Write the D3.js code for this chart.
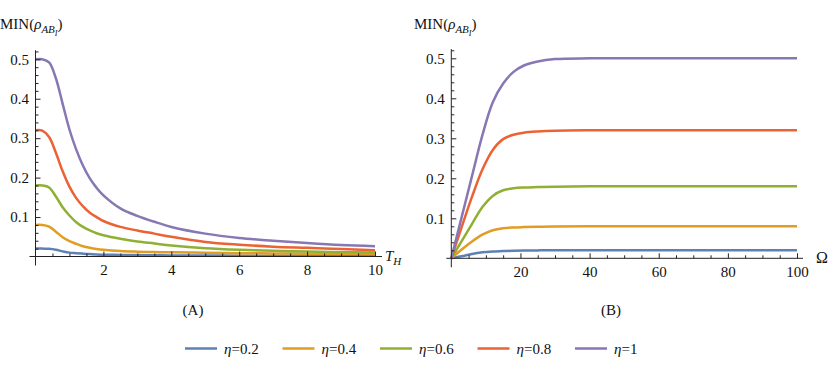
<!DOCTYPE html>
<html>
<head>
<meta charset="utf-8">
<script src="https://cdn.jsdelivr.net/npm/d3@7"></script>
<style>
  body { margin: 0; background: #fff; }
  svg { display: block; }
  text { font-family: "Liberation Serif", "Times New Roman", serif; fill: #111; }
</style>
</head>
<body>
<div class="chart"></div>
<script>
// ---- data ----
const etaLabels = ["0.2", "0.4", "0.6", "0.8", "1"];
const colorrange = ["#5E81B5", "#E19C24", "#8FB032", "#EB6235", "#8778B3"];

// panel (A): MIN vs T_H
const tH = [0, 0.2, 0.4, 0.6, 0.8, 1.0, 1.2, 1.4, 1.6, 1.8, 2, 2.5, 3, 3.5, 4, 5, 6, 7, 8, 9, 10];
const aEta02 = [0.02, 0.02, 0.0195, 0.017, 0.013, 0.0098, 0.0084, 0.0072, 0.0062, 0.0053, 0.0047, 0.004, 0.0035, 0.0031, 0.0028, 0.0025, 0.0022, 0.002, 0.0018, 0.0017, 0.0016];
const aEta04 = [0.08, 0.08, 0.076, 0.063, 0.049, 0.039, 0.032, 0.026, 0.022, 0.019, 0.017, 0.0138, 0.0122, 0.0112, 0.0105, 0.0095, 0.0085, 0.0078, 0.0072, 0.0068, 0.0065];
const aEta06 = [0.18, 0.18, 0.175, 0.152, 0.125, 0.104, 0.087, 0.075, 0.066, 0.059, 0.054, 0.045, 0.038, 0.033, 0.028, 0.021, 0.017, 0.0145, 0.0127, 0.011, 0.010];
const aEta08 = [0.32, 0.319, 0.303, 0.263, 0.216, 0.177, 0.148, 0.127, 0.111, 0.1, 0.09, 0.075, 0.066, 0.058, 0.05, 0.037, 0.03, 0.025, 0.022, 0.019, 0.016];
const aEta10 = [0.5, 0.5, 0.492, 0.452, 0.387, 0.322, 0.271, 0.23, 0.198, 0.174, 0.155, 0.122, 0.103, 0.088, 0.075, 0.058, 0.047, 0.04, 0.034, 0.029, 0.026];

// panel (B): MIN vs Omega
const omega = [0, 3, 6, 9, 12, 15, 18, 21, 25, 30, 40, 60, 80, 100];
const bEta02 = [0, 0.005, 0.011, 0.015, 0.017, 0.018, 0.019, 0.0195, 0.0198, 0.02, 0.02, 0.02, 0.02, 0.02];
const bEta04 = [0, 0.022, 0.042, 0.059, 0.07, 0.075, 0.077, 0.078, 0.079, 0.0795, 0.08, 0.08, 0.08, 0.08];
const bEta06 = [0, 0.043, 0.086, 0.128, 0.156, 0.17, 0.175, 0.177, 0.178, 0.179, 0.18, 0.18, 0.18, 0.18];
const bEta08 = [0, 0.078, 0.154, 0.222, 0.271, 0.298, 0.309, 0.314, 0.317, 0.319, 0.32, 0.32, 0.32, 0.32];
const bEta10 = [0, 0.103, 0.206, 0.308, 0.39, 0.437, 0.466, 0.482, 0.492, 0.498, 0.5, 0.5, 0.5, 0.5];

const yTicks = [0.1, 0.2, 0.3, 0.4, 0.5];
const aXTicks = [2, 4, 6, 8, 10];
const bXTicks = [20, 40, 60, 80, 100];

const serif = "'Liberation Serif', 'Times New Roman', serif";

let width = 830, height = 374;

let svg = d3.select(".chart").append("svg")
    .attr("width", width)
    .attr("height", height);

svg.append("rect").attr("width", width).attr("height", height).attr("fill", "#fff");

let panels = [
  { xs: tH, series: [aEta02, aEta04, aEta06, aEta08, aEta10], xDomain: [0, 10], xRange: [35.5, 375],
    yRange: [256.5, 59.3], xTicks: aXTicks, xMinorStep: 0.5, axisLeftExt: 6, axisRightEnd: 382,
    label: "(A)", labelX: 193, titleX: 0, xName: "T" },
  { xs: omega, series: [bEta02, bEta04, bEta06, bEta08, bEta10], xDomain: [0, 100], xRange: [451.3, 797],
    yRange: [258.3, 58.3], xTicks: bXTicks, xMinorStep: 5, axisLeftExt: 5, axisRightEnd: 803,
    label: "(B)", labelX: 611, titleX: 414, xName: "Ω" }
];

function styleAxis(a) {
  a.select(".domain").remove();
  a.attr("font-family", serif).attr("font-size", 15);
  a.selectAll("line").attr("stroke", "#222");
  a.selectAll("text").style("font-family", serif).style("font-size", "15px").attr("fill", "#111");
}

panels.forEach(function(p) {
  let x = d3.scaleLinear().domain(p.xDomain).range(p.xRange);
  let y = d3.scaleLinear().domain([0, 0.5]).range(p.yRange);
  let g = svg.append("g");

  let line = d3.line()
    .curve(d3.curveCatmullRom.alpha(0.5))
    .x(function(d, i) { return x(p.xs[i]); })
    .y(function(d) { return y(d); });

  g.selectAll("path.curve")
    .data(p.series)
    .enter().append("path")
      .attr("class", "curve")
      .attr("d", line)
      .attr("fill", "none")
      .attr("stroke", function(d, i) { return colorrange[i]; })
      .attr("stroke-width", 2.5);

  // axis lines (extend a bit past the origin, like the original)
  let x0 = x(0), y0 = y(0);
  g.append("line").attr("x1", x0 - p.axisLeftExt).attr("x2", p.axisRightEnd)
    .attr("y1", y0).attr("y2", y0).attr("stroke", "#222").attr("stroke-width", 1);
  g.append("line").attr("x1", x0).attr("x2", x0)
    .attr("y1", y0 + 9).attr("y2", y(0.523)).attr("stroke", "#222").attr("stroke-width", 1);

  // minor ticks
  let xMinor = d3.range(p.xMinorStep, p.xDomain[1] + 1e-9, p.xMinorStep)
    .filter(function(v) { return p.xTicks.indexOf(Math.round(v * 100) / 100) < 0; });
  let yMinor = d3.range(0.02, 0.521, 0.02)
    .filter(function(v) { return Math.abs(v * 10 - Math.round(v * 10)) > 1e-6; });

  g.append("g").attr("transform", "translate(0," + y0 + ")")
    .call(d3.axisBottom(x).tickValues(xMinor).tickSize(-3).tickFormat(""))
    .call(styleAxis);
  g.append("g").attr("transform", "translate(" + x0 + ",0)")
    .call(d3.axisLeft(y).tickValues(yMinor).tickSize(-3).tickFormat(""))
    .call(styleAxis);

  // major ticks + labels
  g.append("g").attr("transform", "translate(0," + y0 + ")")
    .call(d3.axisBottom(x).tickValues(p.xTicks).tickSize(-5).tickPadding(8).tickFormat(d3.format("d")))
    .call(styleAxis);
  g.append("g").attr("transform", "translate(" + x0 + ",0)")
    .call(d3.axisLeft(y).tickValues(yTicks).tickSize(-5).tickPadding(6.5).tickFormat(d3.format(".1f")))
    .call(styleAxis);

  // y title  MIN(ρ_{AB_I})
  let t = g.append("text").attr("x", p.titleX).attr("y", 29).attr("font-size", 15);
  t.append("tspan").text("MIN(");
  t.append("tspan").attr("font-style", "italic").text("ρ");
  t.append("tspan").attr("font-style", "italic").attr("font-size", 11).attr("dy", 4).text("AB");
  t.append("tspan").attr("font-style", "italic").attr("font-size", 8).attr("dy", 3).text("I");
  t.append("tspan").attr("dy", -7).text(")");

  // x title
  if (p.xName == "T") {
    let xt = g.append("text").attr("x", 385).attr("y", 261).attr("font-size", 15).attr("font-style", "italic");
    xt.append("tspan").text("T");
    xt.append("tspan").attr("font-size", 11).attr("dy", 4).text("H");
  } else {
    g.append("text").attr("x", 816).attr("y", 263).attr("font-size", 16).text("Ω");
  }

  g.append("text").attr("x", p.labelX).attr("y", 315).attr("text-anchor", "middle")
    .attr("font-size", 15).text(p.label);
});

// legend
let legend = svg.append("g").selectAll("g")
  .data(etaLabels)
  .enter().append("g")
    .attr("transform", function(d, i) { return "translate(" + (185 + i * 97.5) + ",348.5)"; });

legend.append("line")
  .attr("x1", 0).attr("x2", 32).attr("y1", 0).attr("y2", 0)
  .attr("stroke", function(d, i) { return colorrange[i]; })
  .attr("stroke-width", 2.5);

let lt = legend.append("text").attr("x", 39).attr("y", 5).attr("font-size", 15);
lt.append("tspan").attr("font-style", "italic").text("η");
lt.append("tspan").text(function(d) { return "=" + d; });
</script>
</body>
</html>
